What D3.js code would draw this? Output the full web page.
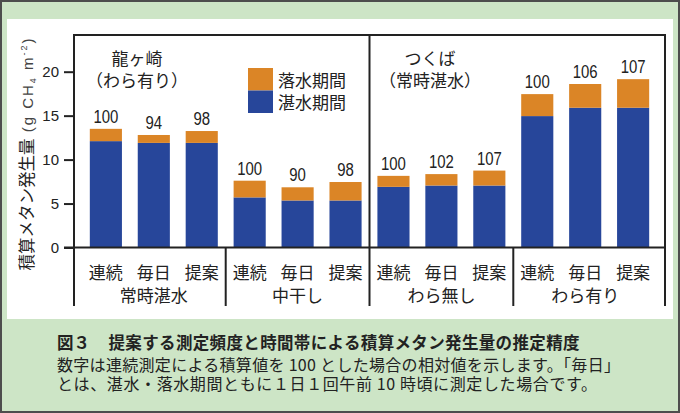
<!DOCTYPE html>
<html>
<head>
<meta charset="utf-8">
<script src="https://cdn.jsdelivr.net/npm/d3@7"></script>
<style>
    html, body { margin: 0; padding: 0; background: #fff; }
    svg { display: block; }
</style>
</head>
<body>
<div id="chart"></div>
<script>
// 栽培条件 (グループ) と測定方法
const groups = ["常時湛水", "中干し", "わら無し", "わら有り"];
const methods = ["連続", "毎日", "提案"];
const sites = [
    {name: "龍ヶ崎", note: "（わら有り）"},
    {name: "つくば", note: "（常時湛水）"}
];

// 積算メタン発生量 (g CH4 m-2)
const flooded = [12.1, 11.9, 11.9, 5.7, 5.35, 5.35, 6.9, 7.05, 7.05, 14.95, 15.9, 15.9];
const drained = [1.4, 0.9, 1.35, 1.9, 1.5, 2.1, 1.25, 1.3, 1.7, 2.5, 2.7, 3.25];
// 連続測定を100とした相対値
const relative = [100, 94, 98, 100, 90, 98, 100, 102, 107, 100, 106, 107];

const yTicks = [0, 5, 10, 15, 20];

const W = 680, H = 413;
const plotLeft = 74, plotRight = 665, plotTop = 35, base = 247.5, plotBottom = 306;
const cjk = "'Noto Sans CJK JP', 'Noto Sans', sans-serif";
const latin = "'Liberation Sans', Arial, sans-serif";
const orange = "#db8526", blue = "#27469a", ink = "#222";

const bars = [];
groups.forEach((g, gi) => methods.forEach((m, mi) => {
    const i = gi * methods.length + mi;
    bars.push({key: g + m, group: gi, method: m, flooded: flooded[i], drained: drained[i], rel: relative[i]});
}));

const svg = d3.select("#chart").append("svg")
    .attr("width", W)
    .attr("height", H);

// 外枠と背景
svg.append("rect").attr("width", W).attr("height", H).attr("fill", "#cde5c6");
svg.append("rect").attr("x", 1).attr("y", 1).attr("width", W - 2).attr("height", H - 2)
    .attr("fill", "none").attr("stroke", "#4d4d4d").attr("stroke-width", 2);
svg.append("rect").attr("x", 7).attr("y", 19).attr("width", 666).attr("height", 300).attr("fill", "#fff");

const x = d3.scaleBand()
    .domain(bars.map(d => d.key))
    .range([plotLeft, plotRight])
    .padding(0.33);

const y = d3.scaleLinear()
    .domain([0, 20])
    .range([base, 71.7]);

const stack = d3.stack().keys(["flooded", "drained"])(bars);
const colors = {flooded: blue, drained: orange};

svg.append("g")
    .selectAll("g")
    .data(stack)
    .join("g")
    .attr("fill", s => colors[s.key])
    .selectAll("rect")
    .data(s => s)
    .join("rect")
    .attr("x", d => x(d.data.key))
    .attr("width", x.bandwidth())
    .attr("y", d => y(d[1]))
    .attr("height", d => y(d[0]) - y(d[1]));

// 相対値ラベル
svg.append("g")
    .selectAll("text")
    .data(bars)
    .join("text")
    .attr("x", d => x(d.key) + x.bandwidth() / 2)
    .attr("y", d => y(d.flooded + d.drained) - 6)
    .attr("text-anchor", "middle")
    .attr("font-family", latin)
    .attr("font-size", 18)
    .attr("fill", ink)
    .attr("textLength", d => String(d.rel).length * 8.3)
    .attr("lengthAdjust", "spacingAndGlyphs")
    .text(d => d.rel);

// Y軸
const yAxis = svg.append("g")
    .attr("transform", `translate(${plotLeft},0)`)
    .call(d3.axisLeft(y).tickValues(yTicks).tickSize(10).tickPadding(5));
yAxis.select(".domain").remove();
yAxis.selectAll(".tick line").attr("stroke", ink).attr("stroke-width", 2);
yAxis.selectAll(".tick text")
    .attr("font-family", latin)
    .attr("font-size", 15)
    .attr("fill", ink);

// 枠線と区切り線
const frame = svg.append("g").attr("stroke", ink).attr("stroke-width", 2).attr("fill", "none");
const sep = i => (x(bars[i * 3 - 1].key) + x.bandwidth() + x(bars[i * 3].key)) / 2;
frame.append("path").attr("d", `M${plotLeft},${plotBottom}V${plotTop}H${plotRight}V${plotBottom}`);
frame.append("line").attr("x1", plotLeft - 10).attr("x2", plotRight).attr("y1", base).attr("y2", base);
frame.append("line").attr("x1", sep(2)).attr("x2", sep(2)).attr("y1", plotTop).attr("y2", plotBottom);
[1, 3].forEach(i => frame.append("line")
    .attr("x1", sep(i)).attr("x2", sep(i)).attr("y1", base).attr("y2", plotBottom));

// カテゴリラベル
svg.append("g")
    .selectAll("text")
    .data(bars)
    .join("text")
    .attr("x", d => x(d.key) + x.bandwidth() / 2)
    .attr("y", 279)
    .attr("text-anchor", "middle")
    .attr("font-family", cjk)
    .attr("font-size", 17)
    .attr("fill", ink)
    .text(d => d.method);

svg.append("g")
    .selectAll("text")
    .data(groups)
    .join("text")
    .attr("x", (g, gi) => (x(bars[gi * 3].key) + x(bars[gi * 3 + 2].key) + x.bandwidth()) / 2)
    .attr("y", 301.5)
    .attr("text-anchor", "middle")
    .attr("font-family", cjk)
    .attr("font-size", 17)
    .attr("fill", ink)
    .text(g => g);

// 地点ラベル
sites.forEach((s, si) => {
    const cx = si === 0 ? 137 : 430;
    const t = svg.append("g")
        .attr("font-family", cjk)
        .attr("font-size", 17)
        .attr("fill", ink)
        .attr("text-anchor", "middle");
    t.append("text").attr("x", cx).attr("y", 65).text(s.name);
    t.append("text").attr("x", cx).attr("y", 86.5).text(s.note);
});

// 凡例
const legend = svg.append("g").attr("transform", "translate(248,68)");
[["drained", "落水期間"], ["flooded", "湛水期間"]].forEach(([k, label], i) => {
    legend.append("rect")
        .attr("y", i * 22.5)
        .attr("width", 25)
        .attr("height", 22.5)
        .attr("fill", colors[k]);
    legend.append("text")
        .attr("x", 30)
        .attr("y", i * 22 + 18.5)
        .attr("font-family", cjk)
        .attr("font-size", 17)
        .attr("fill", ink)
        .text(label);
});

// Y軸タイトル
const yl = svg.append("text")
    .attr("transform", "translate(33,153.5) rotate(-90)")
    .attr("text-anchor", "middle")
    .attr("fill", ink);
yl.append("tspan").attr("font-family", cjk).attr("font-size", 16.5).text("積算メタン発生量");
const unit = (t, size, dy) => yl.append("tspan")
    .attr("font-family", latin)
    .attr("font-size", size)
    .attr("fill", "#444")
    .attr("letter-spacing", 2)
    .attr("dy", dy)
    .text(t);
unit(" (g CH", 15, 0);
unit("4", 9, 3);
unit(" m", 15, -3);
unit("-2", 9, -6);
unit(")", 15, 6);

// キャプション
const cap = svg.append("g").attr("font-family", cjk).attr("fill", ink);
cap.append("text").attr("x", 57).attr("y", 348.5).attr("font-size", 16.5).attr("font-weight", "bold")
    .text("図３");
cap.append("text").attr("x", 108.5).attr("y", 348.5).attr("font-size", 16.5).attr("font-weight", "bold")
    .attr("textLength", 471).attr("lengthAdjust", "spacing")
    .text("提案する測定頻度と時間帯による積算メタン発生量の推定精度");
cap.append("text").attr("x", 57).attr("y", 371).attr("font-size", 16)
    .attr("textLength", 563).attr("lengthAdjust", "spacing")
    .text("数字は連続測定による積算値を 100 とした場合の相対値を示します。「毎日」");
cap.append("text").attr("x", 57).attr("y", 390).attr("font-size", 16)
    .attr("textLength", 540).attr("lengthAdjust", "spacing")
    .text("とは、湛水・落水期間ともに１日１回午前 10 時頃に測定した場合です。");
</script>
</body>
</html>
